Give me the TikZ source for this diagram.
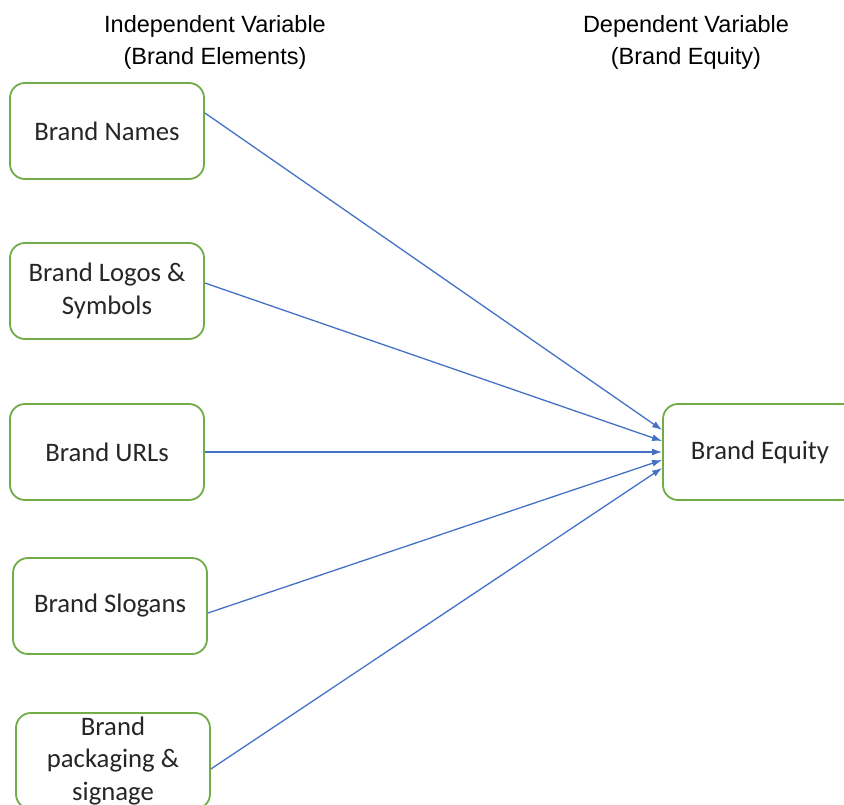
\documentclass[tikz,border=0pt]{standalone}
\usepackage{fontspec}
\setmainfont{Carlito}
\newfontfamily\headfont{Liberation Sans}
\usepackage{tikz}
\usetikzlibrary{arrows.meta}
\definecolor{boxgreen}{RGB}{112,173,71}
\definecolor{arrowblue}{RGB}{68,114,196}
\definecolor{boxtext}{RGB}{38,38,38}

\begin{document}
\begin{tikzpicture}[x=1pt,y=-1pt]

\tikzset{
box/.style={rectangle,rounded corners=15pt,minimum width=194pt,minimum height=96pt,inner sep=4pt,line width=1.8pt,draw=boxgreen,fill=white,text=boxtext,align=center,font=\fontsize{26.7}{32.5}\selectfont},
head/.style={align=center,font=\headfont\fontsize{23.5}{32}\selectfont},
link/.style={-{Latex[length=10pt,width=7pt]},draw=arrowblue,line width=1.3pt}
}

\useasboundingbox (0,0) rectangle (844,805);
\clip (0,0) rectangle (844,805);

\node[head] (indep) at (215,42) {Independent Variable\\(Brand Elements)};
\node[head] (dep) at (686,42) {Dependent Variable\\(Brand Equity)};

\node[box] (names) at (107,131) {Brand Names};
\node[box] (logos) at (107,291) {Brand Logos \&\\Symbols};
\node[box] (urls) at (107,452) {Brand URLs};
\node[box] (slogans) at (110,606) {Brand Slogans};
\node[box] (packaging) at (113,761) {Brand\\packaging \&\\signage};
\node[box] (equity) at (760,452) {Brand Equity};

\draw[link] ([yshift=18pt]names.east)--([yshift=22pt]equity.west);
\draw[link] ([yshift=8pt]logos.east)--([yshift=11pt]equity.west);
\draw[link] (urls.east)--(equity.west);
\draw[link] ([yshift=-7pt]slogans.east)--([yshift=-8pt]equity.west);
\draw[link] ([yshift=-8pt]packaging.east)--([yshift=-16pt]equity.west);

\end{tikzpicture}
\end{document}
